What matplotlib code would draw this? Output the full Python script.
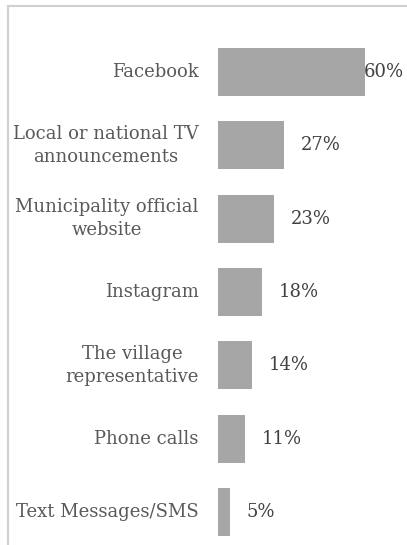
import matplotlib
matplotlib.use("Agg")
import matplotlib.pyplot as plt
from matplotlib.lines import Line2D

categories = [
    "Facebook",
    "Local or national TV\nannouncements",
    "Municipality official\nwebsite",
    "Instagram",
    "The village\nrepresentative",
    "Phone calls",
    "Text Messages/SMS",
]
values = [60, 27, 23, 18, 14, 11, 5]
value_labels = ["60%", "27%", "23%", "18%", "14%", "11%", "5%"]

W, H, DPI = 407, 545, 100
fig = plt.figure(figsize=(W / DPI, H / DPI), dpi=DPI)
fig.patch.set_facecolor("white")

# plot area: bars start at x=218 px and run to the right edge
ax = fig.add_axes([218 / W, 0.0, 1 - 218 / W, 1.0])
ax.set_axis_off()

pos = list(range(len(categories)))
ax.barh(pos, values, height=0.655, color="#a6a6a6", edgecolor="none")

xmax = 77
ax.set_xlim(0, xmax)
ax.set_ylim(6.45, -0.982)

font = "DejaVu Serif"
value_texts = []
for i, (cat, v, lab) in enumerate(zip(categories, values, value_labels)):
    ax.annotate(cat, xy=(0, i), xytext=(-14, 0), textcoords="offset points",
                ha="right", va="center", multialignment="center",
                fontsize=13, family=font, color="#595959", linespacing=1.4)
    t = ax.annotate(lab, xy=(v, i), xytext=(12, 0), textcoords="offset points",
                    ha="left", va="center", fontsize=13, family=font,
                    color="#404040")
    value_texts.append((t, v, i, lab))

# keep value labels inside the plot area
fig.canvas.draw()
renderer = fig.canvas.get_renderer()
for t, v, i, lab in value_texts:
    if t.get_window_extent(renderer).x1 > W - 2:
        t.remove()
        ax.annotate(lab, xy=(xmax, i), xytext=(-2, 0), textcoords="offset points",
                    ha="right", va="center", fontsize=13, family=font,
                    color="#404040")

# chart frame
frame_kw = dict(color="#d0d0d0", linewidth=1.5, transform=fig.transFigure)
fig.add_artist(Line2D([8 / W, 1.0], [1 - 6 / H, 1 - 6 / H], **frame_kw))
fig.add_artist(Line2D([8 / W, 8 / W], [0.0, 1 - 6 / H], **frame_kw))

fig.savefig("out.png", dpi=DPI, facecolor="white")
